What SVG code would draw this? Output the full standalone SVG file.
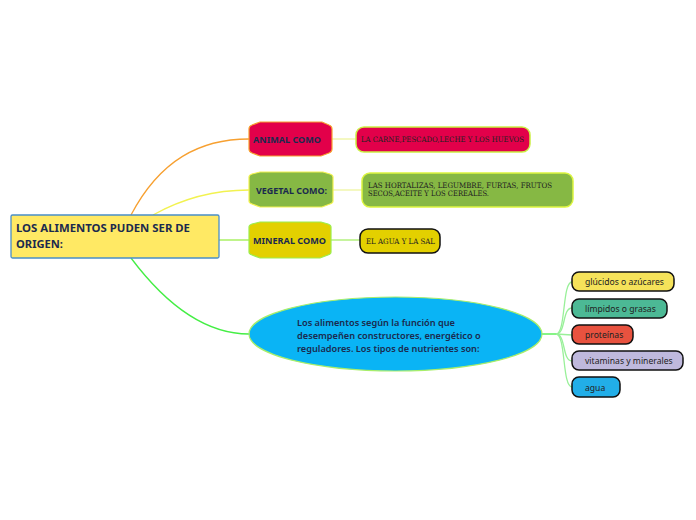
<svg xmlns="http://www.w3.org/2000/svg" width="696" height="520" viewBox="0 0 696 520">
<style>
.conn{fill:none;stroke-width:1.3}
.main{font-family:"Noto Sans","Open Sans","DejaVu Sans",sans-serif;font-weight:bold;fill:#1b2a4e}
.slab{font-family:"DejaVu Serif","Liberation Serif",serif;font-size:7.5px;fill:#222}
.sub{font-family:"Noto Sans","Open Sans","DejaVu Sans",sans-serif;font-size:8.6px;fill:#222}
.leaf{stroke:#111;stroke-width:1.5}
</style>
<rect width="696" height="520" fill="#ffffff"/>
<g id="connectors">
<path class="conn" stroke="#f7a030" d="M131,215 C160,160 200,139 249,139"/>
<path class="conn" stroke="#f2f250" d="M153,215 C185,197 220,190 249,190"/>
<path class="conn" stroke="#9cee4c" d="M219,240 L249,240"/>
<path class="conn" stroke="#44ee44" d="M131,258 C170,310 210,334 249,334"/>
<path class="conn" stroke="#eef5a0" d="M332,139 L356,139"/>
<path class="conn" stroke="#eef5a0" d="M333,190 L362,190"/>
<path class="conn" stroke="#a8ee6a" d="M331,240 L360,240"/>
<path class="conn" stroke="#44ee44" d="M542,334 L556,334"/>
<path class="conn" stroke="#99f099" d="M556,334 C566,334 562,282 572,282"/>
<path class="conn" stroke="#99f099" d="M556,334 C566,334 562,308 572,308"/>
<path class="conn" stroke="#99f099" d="M556,334 L572,335"/>
<path class="conn" stroke="#99f099" d="M556,334 C566,334 562,361 572,361"/>
<path class="conn" stroke="#99f099" d="M556,334 C566,334 562,387 572,387"/>
</g>
<g id="root">
<rect x="11" y="215" width="208" height="43" rx="1.5" fill="#ffe964" stroke="#4a8ec8" stroke-width="1.3"/>
<text class="main" font-size="11" x="16" y="232" textLength="174" lengthAdjust="spacingAndGlyphs">LOS ALIMENTOS PUDEN SER DE</text>
<text class="main" font-size="11" x="16" y="248" textLength="47" lengthAdjust="spacingAndGlyphs">ORIGEN:</text>
</g>
<g id="animal">
<path d="M249,129 Q249,126 252,125 L260,122 L322,122 L329,125 Q332,126 332,129 L332,149 Q332,152 329,153 L321,156 L260,156 L252,153 Q249,152 249,149 Z" fill="#e2004a" stroke="#f7a030" stroke-width="1.2"/>
<text class="main" font-size="9.2" x="253" y="142.5" textLength="68" lengthAdjust="spacingAndGlyphs">ANIMAL COMO</text>
</g>
<g id="animal-leaf">
<rect x="356" y="127" width="174" height="25" rx="8" fill="#e2004a" stroke="#ccee44" stroke-width="1.5"/>
<text class="slab" x="361" y="142" textLength="163" lengthAdjust="spacingAndGlyphs">LA CARNE,PESCADO,LECHE Y LOS HUEVOS</text>
</g>
<g id="vegetal">
<path d="M249,177 Q249,175 252,174 L260,172 L323,172 L330,174 Q333,175 333,177 L333,201 Q333,203 330,204 L322,207 L260,207 L252,204 Q249,203 249,201 Z" fill="#86b844" stroke="#f2f250" stroke-width="1.2"/>
<text class="main" font-size="9.2" x="256" y="193.5" textLength="71" lengthAdjust="spacingAndGlyphs">VEGETAL COMO:</text>
</g>
<g id="vegetal-leaf">
<rect x="362" y="173" width="211" height="34" rx="8" fill="#86b844" stroke="#ddf540" stroke-width="1.5"/>
<text class="slab" x="368" y="188" textLength="184" lengthAdjust="spacingAndGlyphs">LAS HORTALIZAS, LEGUMBRE, FURTAS, FRUTOS</text>
<text class="slab" x="368" y="196" textLength="121" lengthAdjust="spacingAndGlyphs">SECOS,ACEITE Y LOS CEREALES.</text>
</g>
<g id="mineral">
<path d="M249,227 Q249,225 252,224 L260,222 L321,222 L328,224 Q331,225 331,227 L331,252 Q331,254 328,255 L320,258 L260,258 L252,255 Q249,254 249,252 Z" fill="#e3d000" stroke="#9cee4c" stroke-width="1.2"/>
<text class="main" font-size="9.2" x="253" y="243.5" textLength="73" lengthAdjust="spacingAndGlyphs">MINERAL COMO</text>
</g>
<g id="mineral-leaf">
<rect x="360" y="229" width="80" height="24" rx="8" fill="#e3d000" stroke="#111" stroke-width="1.5"/>
<text class="slab" x="366" y="244" textLength="69" lengthAdjust="spacingAndGlyphs">EL AGUA Y LA SAL</text>
</g>
<g id="funcion">
<ellipse cx="395.5" cy="334" rx="146.5" ry="37" fill="#0ab4f5" stroke="#a8ee6a" stroke-width="1.2"/>
<text class="main" font-size="9.2" x="297" y="326" style="font-weight:600">Los alimentos según la función que</text>
<text class="main" font-size="9.2" x="297" y="339" style="font-weight:600">desempeñen constructores, energético o</text>
<text class="main" font-size="9.2" x="297" y="352" style="font-weight:600">reguladores. Los tipos de nutrientes son:</text>
</g>
<g id="glucidos">
<rect class="leaf" x="572" y="272" width="102" height="19" rx="7" fill="#f5e25a"/>
<text class="sub" x="585" y="285">glúcidos o azúcares</text>
</g>
<g id="limpidos">
<rect class="leaf" x="572" y="299" width="95" height="19" rx="7" fill="#4cb995"/>
<text class="sub" x="585" y="312">límpidos o grasas</text>
</g>
<g id="proteinas">
<rect class="leaf" x="572" y="325" width="61" height="19" rx="7" fill="#e8523f"/>
<text class="sub" x="585" y="338">proteínas</text>
</g>
<g id="vitaminas">
<rect class="leaf" x="572" y="351" width="111" height="19" rx="7" fill="#bfb9dd"/>
<text class="sub" x="585" y="364">vitaminas y minerales</text>
</g>
<g id="agua">
<rect class="leaf" x="572" y="377" width="48" height="20" rx="7" fill="#22aee8"/>
<text class="sub" x="585" y="391">agua</text>
</g>
</svg>
